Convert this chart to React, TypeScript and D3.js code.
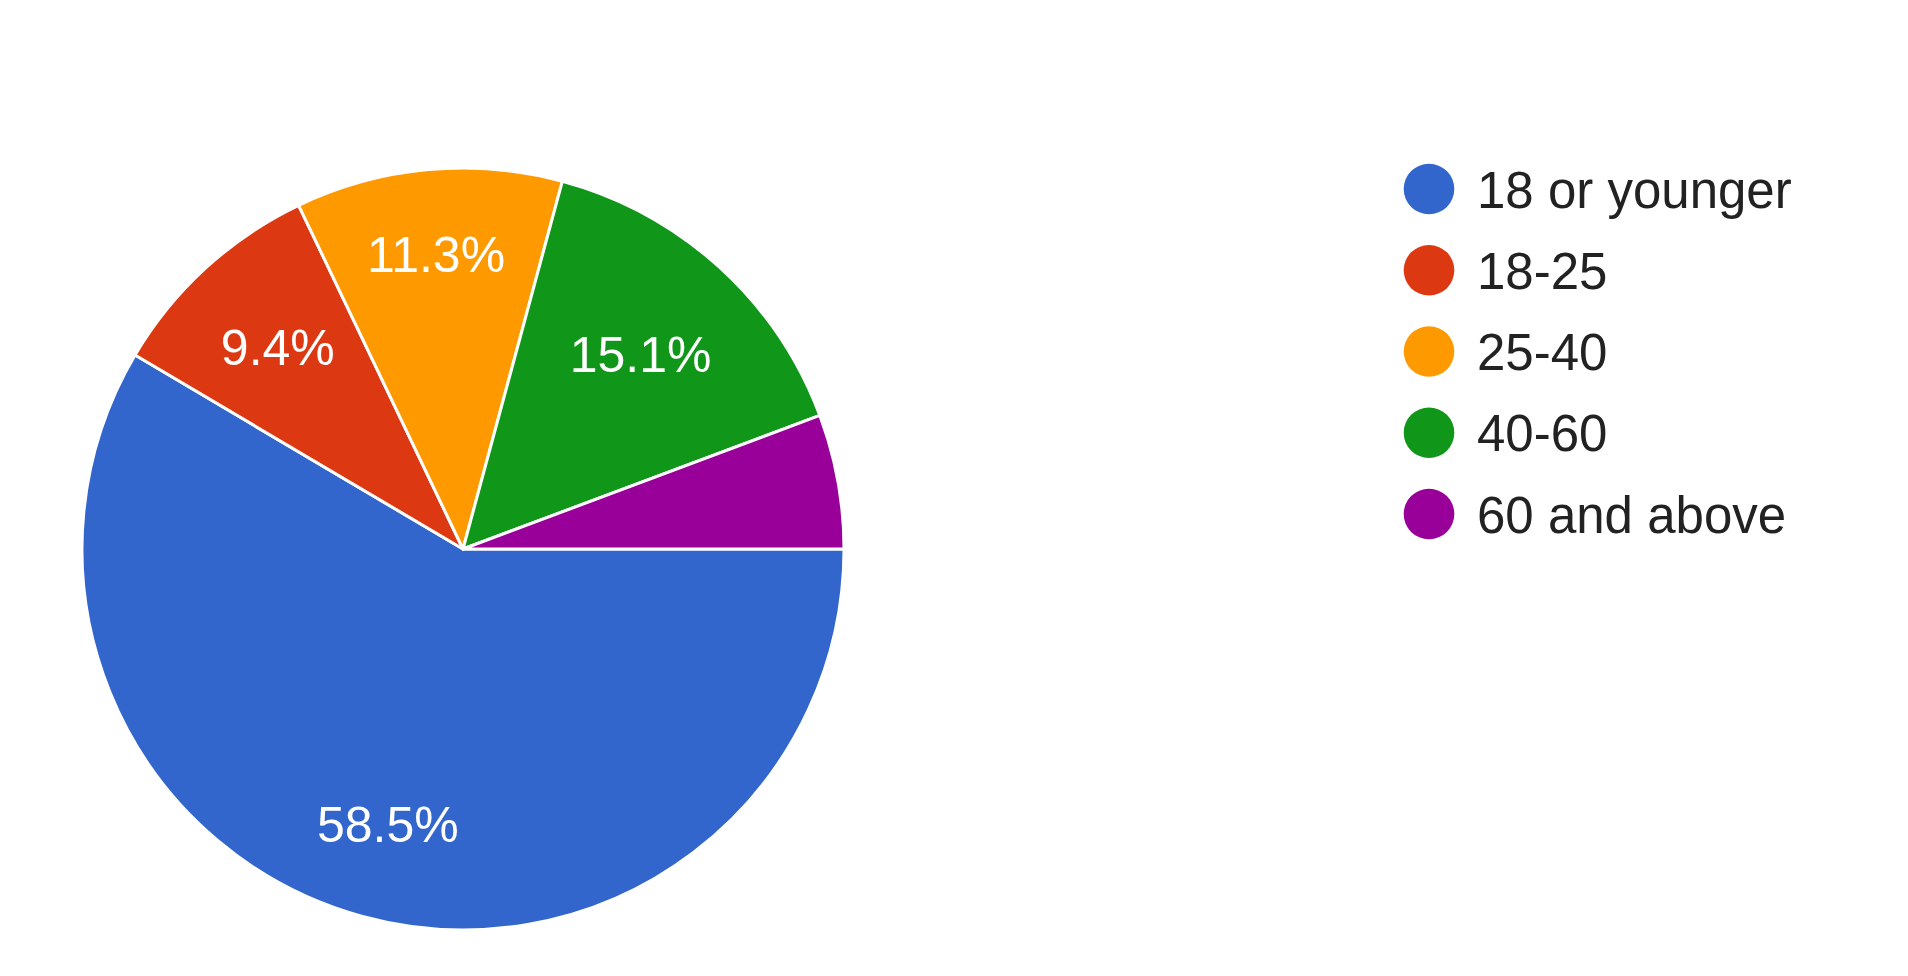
import { useMemo } from 'react';
import * as d3 from 'd3';

const categories = ['18 or younger', '18-25', '25-40', '40-60', '60 and above'];
const percents = [58.5, 9.4, 11.3, 15.1, 5.7];
const labels = ['58.5%', '9.4%', '11.3%', '15.1%', ''];
const colours = ['#3366cc', '#dc3912', '#ff9900', '#109618', '#990099'];

const width = 1908;
const height = 976;
const centre = { x: 463, y: 549 };
const radius = 381;
const labelFont = 50;
const legendFont = 51;

// text width measured with a canvas, Liberation Sans is metric-compatible with Arial
function measure(text: string, size: number) {
    const ctx = document.createElement('canvas').getContext('2d');
    if (!ctx) return text.length * size * 0.55;
    ctx.font = `${size}px Arial, "Liberation Sans", sans-serif`;
    return ctx.measureText(text).width;
}

export default function App() {
    const arcs = useMemo(
        () =>
            d3
                .pie<number>()
                .sort(null)
                .value((d) => d)
                .startAngle(Math.PI / 2)
                .endAngle(Math.PI / 2 + 2 * Math.PI)(percents),
        []
    );
    const arc = d3.arc<d3.PieArcDatum<number>>().innerRadius(0).outerRadius(radius);

    const legendY = d3
        .scalePoint<string>()
        .domain(categories)
        .range([189, 514]);

    // place each label along the slice's middle so that its far corner sits at 0.86r
    const labelPos = (a: d3.PieArcDatum<number>, text: string) => {
        const mid = (a.startAngle + a.endAngle) / 2;
        const ux = Math.sin(mid);
        const uy = -Math.cos(mid);
        const hw = measure(text, labelFont) / 2;
        const hh = 18.5;
        const R = radius * 0.86;
        const b = Math.abs(ux) * hw + Math.abs(uy) * hh;
        const c = hw * hw + hh * hh - R * R;
        const t = -b + Math.sqrt(b * b - c);
        return [centre.x + t * ux, centre.y + t * uy];
    };

    return (
        <svg
            width={width}
            height={height}
            viewBox={`0 0 ${width} ${height}`}
            style={{ position: 'absolute', left: 0, top: 0, background: '#fff' }}
        >
            <g transform={`translate(${centre.x}, ${centre.y})`}>
                {arcs.map((a, i) => (
                    <path
                        key={i}
                        d={arc(a) || ''}
                        fill={colours[i]}
                        stroke="#fff"
                        strokeWidth={3}
                        strokeLinejoin="round"
                    />
                ))}
            </g>
            {arcs.map((a, i) => {
                if (!labels[i]) return null;
                const [x, y] = labelPos(a, labels[i]);
                return (
                    <text
                        key={i}
                        x={x}
                        y={y + 18}
                        textAnchor="middle"
                        fill="#fff"
                        fontFamily='Arial, "Liberation Sans", sans-serif'
                        fontSize={labelFont}
                    >
                        {labels[i]}
                    </text>
                );
            })}
            <g fontFamily='Arial, "Liberation Sans", sans-serif' fontSize={legendFont}>
                {categories.map((c, i) => {
                    const y = legendY(c) || 0;
                    return (
                        <g key={c}>
                            <circle cx={1429} cy={y} r={25.3} fill={colours[i]} />
                            <text x={1477} y={y + 18.5} fill="#222">
                                {c}
                            </text>
                        </g>
                    );
                })}
            </g>
        </svg>
    );
}
